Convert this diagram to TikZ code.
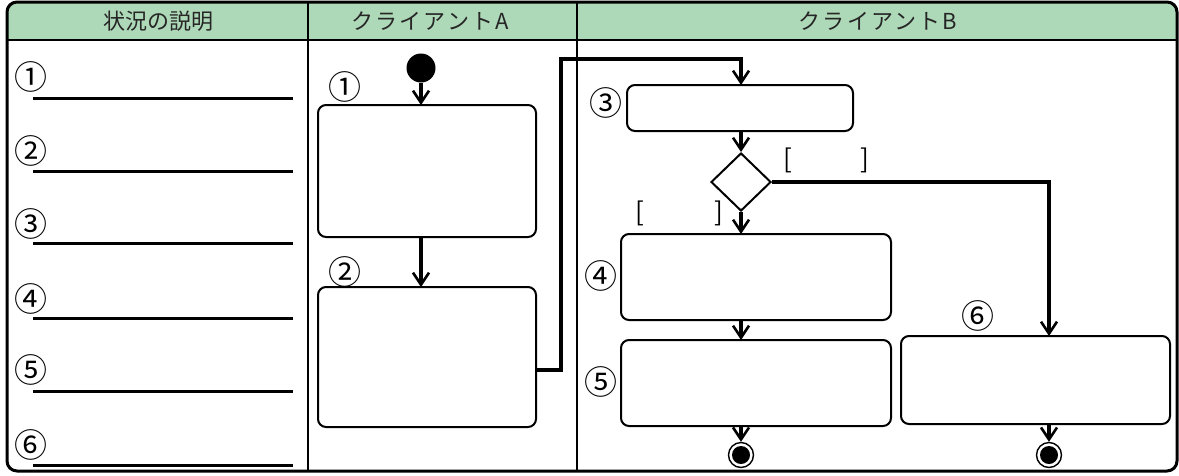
\documentclass[tikz,border=0pt]{standalone}
\usepackage{fontspec}
\setmainfont{Noto Sans CJK JP}
\usepackage{tikz}
\usetikzlibrary{arrows.meta}
\usetikzlibrary{shapes.geometric}
\definecolor{headgreen}{RGB}{174,217,184}
\tikzset{
  actbox/.style={draw, line width=2pt, rounded corners=8pt, inner sep=0pt, outer sep=0pt},
  flow/.style={line width=3.2pt, -{Straight Barb[length=12pt,width=16pt,line width=2.6pt]}},
  numlabel/.style={font=\fontsize{33}{33}\selectfont, inner sep=0pt},
  headtext/.style={font=\fontsize{22}{22}\selectfont, text=black!85},
  guard/.style={font=\fontsize{26}{26}\selectfont, inner sep=0pt},
}

\begin{document}
\begin{tikzpicture}[x=1pt, y=-1pt]
                \useasboundingbox (0,0) rectangle (1179,475);
                % frame and header
                \begin{scope}
                \clip[rounded corners=10pt] (7,2) rectangle (1177,471);
                \fill[headgreen] (7,2) rectangle (1177,40);
                \end{scope}
                \draw[line width=2.2pt] (7,40) -- (1177,40);
                \draw[line width=2.4pt] (308,2) -- (308,471);
                \draw[line width=2.4pt] (577,2) -- (577,471);
                \draw[line width=3pt, rounded corners=10pt] (7,2) rectangle (1177,471);
                \node[headtext] (hd1) at (158,21) {状況の説明};
                \node[headtext] (hd2) at (430,21) {\addfontfeature{LetterSpace=10}クライアントA};
                \node[headtext] (hd3) at (878,21) {\addfontfeature{LetterSpace=10}クライアントB};

                % left column
                \node[numlabel] (s1) at (31,77) {①};
                \node[numlabel] (s2) at (31,151) {②};
                \node[numlabel] (s3) at (31,224) {③};
                \node[numlabel] (s4) at (31,299) {④};
                \node[numlabel] (s5) at (31,370) {⑤};
                \node[numlabel] (s6) at (31,445) {⑥};
                \draw[line width=3pt] (33,98) -- (293,98);
                \draw[line width=3pt] (33,171) -- (293,171);
                \draw[line width=3pt] (33,243) -- (293,243);
                \draw[line width=3pt] (33,318) -- (293,318);
                \draw[line width=3pt] (33,391) -- (293,391);
                \draw[line width=3pt] (33,465) -- (293,465);

                % client A
                \node[circle, fill, minimum size=29pt, inner sep=0pt] (init) at (421,68) {};
                \node[actbox, minimum width=218pt, minimum height=132pt] (a1) at (427,171) {};
                \node[actbox, minimum width=218pt, minimum height=140pt] (a2) at (427,357) {};
                \node[numlabel] (la1) at (345,87) {①};
                \node[numlabel] (la2) at (345,272) {②};
                \draw[flow] (init) -- (init |- a1.north);
                \draw[flow] (init |- a1.south) -- (init |- a2.north);

                % client B
                \coordinate (jA) at (561,59);
                \node[actbox, minimum width=226pt, minimum height=46pt] (b3) at (740,108) {};
                \node[diamond, draw, line width=2pt, minimum width=60pt, minimum height=58pt, inner sep=0pt] (dec) at (741,182) {};
                \node[actbox, minimum width=270pt, minimum height=86pt] (b4) at (756,277) {};
                \node[actbox, minimum width=270pt, minimum height=86pt] (b5) at (756,383) {};
                \node[actbox, minimum width=269pt, minimum height=88pt] (b6) at (1035.5,380) {};
                \node[numlabel] (lb3) at (606,103) {③};
                \node[numlabel] (lb4) at (601,276) {④};
                \node[numlabel] (lb5) at (601,382) {⑤};
                \node[numlabel] (lb6) at (978,316) {⑥};
                \node[guard] (gd1) at (826,160) {\makebox[86pt]{[\hfill]}};
                \node[guard] (gd2) at (679,213) {\makebox[88pt]{[\hfill]}};
                \node[circle, draw, line width=1.4pt, minimum size=25pt, inner sep=0pt,
                      path picture={\fill (path picture bounding box.center) circle (9pt);}] (end5) at (741,455) {};
                \node[circle, draw, line width=1.4pt, minimum size=25pt, inner sep=0pt,
                      path picture={\fill (path picture bounding box.center) circle (9pt);}] (end6) at (1049,455) {};

                \draw[flow] ([yshift=-13pt]a2.east) -| (jA) -| (dec |- b3.north);
                \draw[flow] (dec |- b3.south) -- (dec.north);
                \draw[flow] (dec.south) -- (dec |- b4.north);
                \draw[flow] (dec.east) -| (end6 |- b6.north);
                \draw[flow] (dec |- b4.south) -- (dec |- b5.north);
                \draw[flow] (dec |- b5.south) -- (end5);
                \draw[flow] (end6 |- b6.south) -- (end6);

            \end{tikzpicture}
\end{document}
